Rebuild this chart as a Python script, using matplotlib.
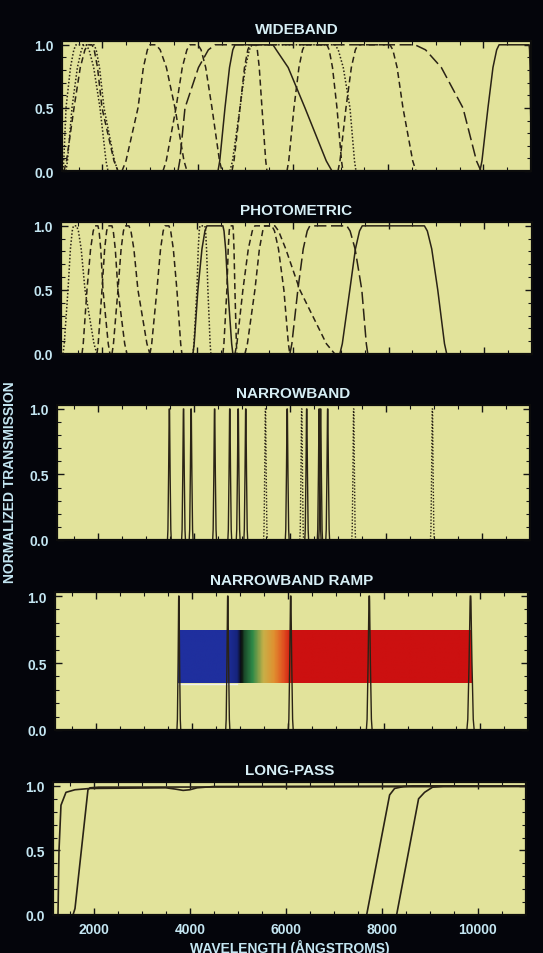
import numpy as np
import matplotlib
matplotlib.use("Agg")
import matplotlib.pyplot as plt
from matplotlib.colors import LinearSegmentedColormap
from matplotlib.ticker import MultipleLocator

plt.rcParams['font.family'] = ['Liberation Sans', 'DejaVu Sans']
plt.rcParams['font.weight'] = 'bold'

# transmission levels for the band-pass filter outlines
levels = [0, 0.08, 0.5, 0.82, 0.96, 1.0, 1.0, 0.96, 0.82, 0.5, 0.08, 0]

# ---- WIDEBAND: wavelength at each level, and line style
wide_bands = [
    (1171, 1187, 1234, 1328, 1398, 1444, 1654, 1719, 1816, 1948, 2074, 2116),
    (1234, 1265, 1360, 1473, 1557, 1612, 1822, 1868, 1938, 2032, 2252, 2326),
    (1192, 1244, 1402, 1534, 1631, 1696, 1780, 1826, 1896, 1990, 2242, 2326),
    (2410, 2494, 2746, 2859, 2943, 2998, 3124, 3212, 3343, 3523, 3712, 3775),
    (3271, 3339, 3544, 3676, 3773, 3838, 4006, 4071, 4168, 4300, 4458, 4510),
    (3586, 3623, 3733, 4016, 4224, 4363, 8563, 8785, 9117, 9571, 9855, 9949),
    (4426, 4463, 4573, 4668, 4737, 4783, 5581, 5650, 5900, 6253, 6700, 6820),
    (4678, 4731, 4888, 5001, 5085, 5140, 6883, 6952, 7057, 7198, 7293, 7324),
    (4720, 4762, 4888, 4983, 5052, 5098, 5224, 5252, 5293, 5350, 5429, 5455),
    (5875, 5912, 6022, 6126, 6202, 6253, 6715, 6761, 6831, 6925, 7020, 7051),
    (6946, 6988, 7114, 7227, 7311, 7366, 8038, 8098, 8188, 8311, 8516, 8584),
    (9928, 9970, 10096, 10201, 10279, 10330, 10960, 10970, 10980, 10990, 11020, 11030),
]
wide_styles = ['dot', 'dot', 'dash', 'dash', 'dash', 'long', 'solid', 'dot',
               'dash', 'dash', 'dash', 'solid']

# ---- PHOTOMETRIC
phot_bands = [
    (1192, 1218, 1296, 1347, 1385, 1410, 1475, 1514, 1572, 1652, 1840, 1902),
    (1589, 1615, 1693, 1769, 1824, 1861, 1923, 1946, 1981, 2028, 2138, 2174),
    (1902, 1928, 2007, 2063, 2105, 2132, 2216, 2243, 2285, 2341, 2482, 2529),
    (2216, 2247, 2341, 2407, 2456, 2488, 2571, 2612, 2674, 2759, 2947, 3010),
    (3010, 3047, 3156, 3232, 3287, 3324, 3407, 3444, 3499, 3574, 3653, 3679),
    (3909, 3935, 4013, 4098, 4160, 4201, 4536, 4559, 4593, 4640, 4719, 4745),
    (3909, 3930, 3992, 4020, 4041, 4055, 4160, 4174, 4194, 4222, 4269, 4285),
    (4536, 4557, 4619, 4647, 4668, 4682, 4745, 4754, 4768, 4787, 4818, 4828),
    (4787, 4829, 4954, 5067, 5150, 5205, 5560, 5615, 5698, 5811, 5905, 5936),
    (4996, 5048, 5205, 5299, 5368, 5414, 5623, 5700, 5850, 6145, 6700, 6877),
    (5936, 5978, 6103, 6216, 6299, 6354, 7127, 7196, 7300, 7441, 7535, 7566),
    (6981, 7033, 7190, 7307, 7393, 7450, 8750, 8811, 8903, 9029, 9170, 9217),
]
phot_styles = ['dot', 'dash', 'dash', 'dash', 'dash', 'solid', 'dot', 'dash',
               'dash', 'dash', 'long', 'solid']

# ---- NARROWBAND: line centres
narrow_solid = [3490, 3785, 3943, 4432, 4748, 4923, 5081, 5944, 6350, 6610, 6640, 6787]
narrow_dotted = [5491, 6246, 7328, 8967]
spike_offsets = [-40, -30, -16, -8, -5, -3, 3, 5, 8, 16, 30, 40]

# ---- NARROWBAND RAMP
ramp_centres = [3729, 4748, 6059, 7694, 9803]
ramp_widths = [1.0, 1.1, 1.3, 1.5, 1.9]
ramp_wl = [3708, 4700, 4930, 5010, 5080, 5250, 5480, 5700, 5900, 6080, 9824]
ramp_colors = ['#1f2f9e', '#1f2f9e', '#16247c', '#0a0a0a', '#1a4a2a', '#2e8a48',
               '#c8b048', '#e09030', '#e05020', '#cc1010', '#cc1010']
ramp_lo, ramp_hi = 0.35, 0.74

# ---- LONG-PASS
lp_x = [
    [1150, 1254, 1275, 1316, 1420, 1608, 1920, 3500, 3700, 3860, 4000, 4150, 4500, 11000],
    [1150, 1566, 1608, 1878, 1920, 2100, 11000],
    [1150, 7681, 8160, 8264, 8450, 8638, 11000],
    [1150, 8305, 8763, 8888, 9054, 9345, 11000],
]
lp_y = [
    [0, 0, 0.5, 0.85, 0.95, 0.97, 0.98, 0.985, 0.975, 0.965, 0.97, 0.985, 0.995, 1.0],
    [0, 0, 0.05, 0.97, 0.985, 0.99, 0.995],
    [0, 0, 0.93, 0.98, 0.995, 1.0, 1.0],
    [0, 0, 0.9, 0.95, 0.99, 1.0, 1.0],
]

x_ticks = [2000, 4000, 6000, 8000, 10000]

dash_map = {'solid': '-', 'dash': (0, (4, 2.5)), 'long': (0, (8, 3)), 'dot': (0, (1, 1.3))}
line_col = '#2a2316'
face_col = '#e2e39b'
text_col = '#c4e6f2'
bg_col = '#04050b'

fig = plt.figure(figsize=(5.43, 9.54), dpi=100, facecolor=bg_col)
W, H = 543, 954
boxes = [(62, 531, 42, 172), (61, 532, 223, 355), (57, 530, 406, 541),
         (55, 528, 593, 731), (53, 526, 783, 916)]
titles = ['WIDEBAND', 'PHOTOMETRIC', 'NARROWBAND', 'NARROWBAND RAMP', 'LONG-PASS']

axes = []
for (l, r, t, b), title in zip(boxes, titles):
    ax = fig.add_axes([l / W, 1 - b / H, (r - l) / W, (b - t) / H], facecolor=face_col)
    ax.set_xlim(1150, 11000)
    ax.set_ylim(0, 1.03)
    ax.set_xticks(x_ticks)
    ax.xaxis.set_minor_locator(MultipleLocator(500))
    ax.set_yticks([0, 0.5, 1.0])
    ax.set_yticklabels(['0.0', '0.5', '1.0'])
    ax.yaxis.set_minor_locator(MultipleLocator(0.1))
    ax.tick_params(which='both', direction='in', top=True, right=True, color='#151515',
                   labelcolor=text_col, labelsize=10, pad=6)
    ax.tick_params(which='major', length=5, width=1)
    ax.tick_params(which='minor', length=3, width=0.8)
    ax.tick_params(axis='x', labelbottom=False)
    for s in ax.spines.values():
        s.set_color('#0c0c0c')
        s.set_linewidth(1.6)
    ax.set_title(title, color='#d6eef5', fontsize=11, fontweight='bold', pad=6)
    axes.append(ax)

# wideband + photometric
for ax, bands, styles in [(axes[0], wide_bands, wide_styles), (axes[1], phot_bands, phot_styles)]:
    for band, st in zip(bands, styles):
        ax.plot(band, levels, color=line_col, lw=1.1, ls=dash_map[st])

# narrowband
for c in narrow_solid:
    axes[2].plot([c + o for o in spike_offsets], levels, color=line_col, lw=1.0)
for c in narrow_dotted:
    axes[2].plot([c + o for o in spike_offsets], levels, color=line_col, lw=1.0,
                 ls=dash_map['dot'])

# narrowband ramp: colour strip + filters
cmap = LinearSegmentedColormap.from_list(
    'ramp', list(zip([(w - ramp_wl[0]) / (ramp_wl[-1] - ramp_wl[0]) for w in ramp_wl], ramp_colors)))
grad = np.linspace(0, 1, 600).reshape(1, -1)
axes[3].imshow(grad, cmap=cmap, aspect='auto', extent=[ramp_wl[0], ramp_wl[-1], ramp_lo, ramp_hi],
               zorder=1, interpolation='bilinear')
axes[3].plot([ramp_wl[0], ramp_wl[2]], [ramp_lo - 0.01, ramp_lo - 0.01], color='#f0f0f0', lw=1, zorder=1)
axes[3].set_xlim(1150, 11000)
axes[3].set_ylim(0, 1.03)
for c, wd in zip(ramp_centres, ramp_widths):
    axes[3].plot([c + o * wd for o in spike_offsets], levels, color=line_col, lw=1.0, zorder=2)

# long-pass
for x, y in zip(lp_x, lp_y):
    axes[4].plot(x, y, color=line_col, lw=1.2)
axes[4].tick_params(axis='x', labelbottom=True, pad=5)
axes[4].set_xlabel('WAVELENGTH (ÅNGSTROMS)', color=text_col, fontsize=10, fontweight='bold', labelpad=2)

fig.text(10 / W, 1 - 482 / H, 'NORMALIZED TRANSMISSION', rotation=90, color=text_col,
         fontsize=10, fontweight='bold', ha='center', va='center')

fig.savefig('out.png', dpi=100, facecolor=bg_col)
